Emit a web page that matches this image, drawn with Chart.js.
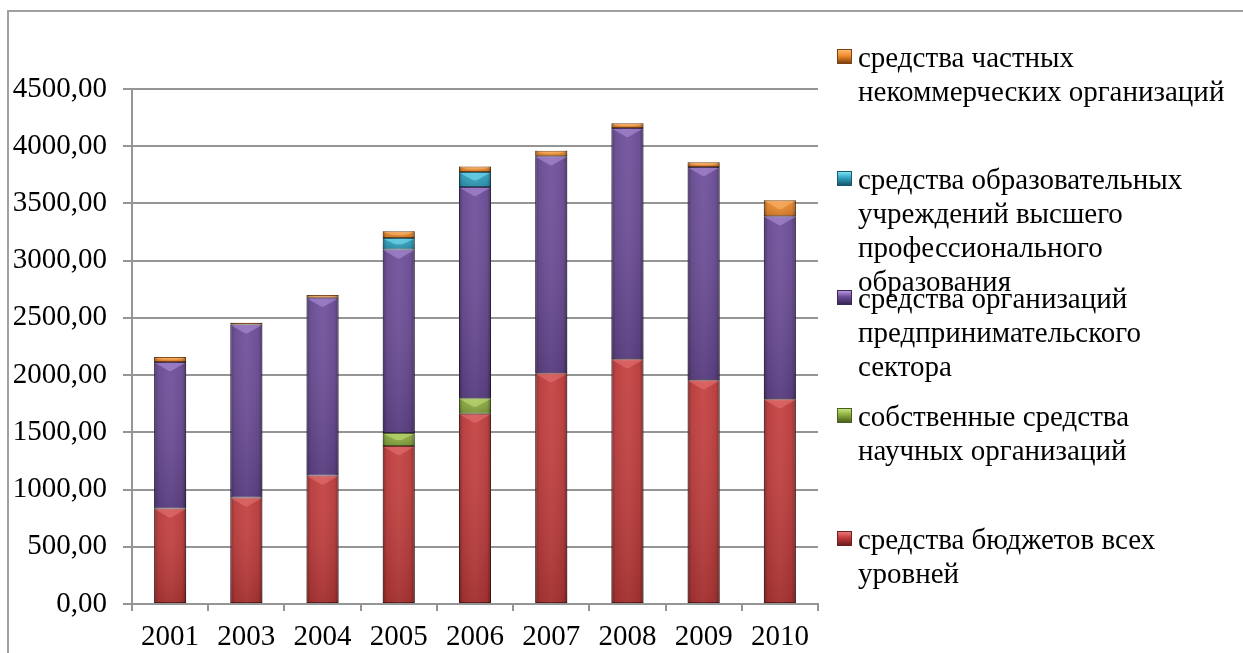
<!DOCTYPE html>
<html>
<head>
  <meta charset="utf-8">
  <title>Источники финансирования</title>
  <script src="https://cdn.jsdelivr.net/npm/chart.js"></script>
  <style>
    body {
      margin: 0;
      background: #ffffff;
      font-family: 'Times New Roman', 'Liberation Serif', 'DejaVu Serif', serif;
    }
    .wrap {
      position: relative;
      width: 1243px;
      height: 653px;
      overflow: hidden;
    }
    .frame {
      position: absolute;
      left: 7px;
      top: 10px;
      width: 1300px;
      height: 700px;
      border-left: 2px solid #a0a0a0;
      border-top: 2px solid #a0a0a0;
    }
    canvas { position: absolute; left: 0; top: 0; }
    .legend-item {
      position: absolute;
      left: 837px;
      font-size: 29px;
      line-height: 34px;
      color: #000;
    }
    .legend-item .box {
      position: absolute;
      left: 0;
      top: 9px;
      width: 13px;
      height: 13px;
    }
    .legend-item .txt {
      margin-left: 21px;
      white-space: nowrap;
    }
  </style>
</head>
<body>
  <div class="wrap">
    <div class="frame"></div>
    <canvas id="fundChart" width="1243" height="653"></canvas>
    <div id="legend"></div>
  </div>

  <script>
    const years = ['2001', '2003', '2004', '2005', '2006', '2007', '2008', '2009', '2010'];

    const budgetFunds    = [834, 930, 1122, 1381, 1663, 2016, 2138, 1955, 1789];
    const ownFunds       = [null, null, null, 114, 134, null, null, null, null];
    const businessFunds  = [1280, 1513, 1553, 1603, 1847, 1896, 2021, 1864, 1600];
    const universityFunds = [null, null, null, 101, 131, null, null, null, null];
    const nonprofitFunds = [44, 15, 25, 58, 47, 49, 41, 40, 138];

    const yTicks = [0, 500, 1000, 1500, 2000, 2500, 3000, 3500, 4000, 4500];

    const series = [
      { label: 'средства бюджетов всех\nуровней', data: budgetFunds, color: '#c23a3a', edge: '#6e1f20', light: '#e87777', top: 539 },
      { label: 'собственные средства\nнаучных организаций', data: ownFunds, color: '#8cad3f', edge: '#4a601f', light: '#c6e27c', top: 416 },
      { label: 'средства организаций\nпредпринимательского\nсектора', data: businessFunds, color: '#6a4a97', edge: '#3a2857', light: '#b595e0', top: 298 },
      { label: 'средства образовательных\nучреждений высшего\nпрофессионального\nобразования', data: universityFunds, color: '#2fa3c2', edge: '#18586a', light: '#7ee3f5', top: 179 },
      { label: 'средства частных\nнекоммерческих организаций', data: nonprofitFunds, color: '#f08a2c', edge: '#7e4210', light: '#fbb870', top: 57 }
    ];

    // bevel + side shading on every bar segment, roughly like office 3D bars
    const bevelPlugin = {
      id: 'bevel',
      afterDatasetsDraw(chart) {
        const ctx = chart.ctx;
        chart.data.datasets.forEach((ds, i) => {
          const s = series[i];
          const meta = chart.getDatasetMeta(i);
          meta.data.forEach(bar => {
            const p = bar.getProps(['x', 'y', 'base', 'width'], true);
            const top = Math.min(p.y, p.base);
            const h = Math.abs(p.base - p.y);
            if (!isFinite(h) || h < 1) return;
            const left = p.x - p.width / 2;
            const right = p.x + p.width / 2;
            ctx.save();
            const g = ctx.createLinearGradient(left, 0, right, 0);
            g.addColorStop(0, 'rgba(0,0,0,0.35)');
            g.addColorStop(0.12, 'rgba(0,0,0,0.06)');
            g.addColorStop(0.5, 'rgba(255,255,255,0.04)');
            g.addColorStop(0.88, 'rgba(0,0,0,0.06)');
            g.addColorStop(1, 'rgba(0,0,0,0.38)');
            ctx.fillStyle = g;
            ctx.fillRect(left, top, p.width, h);
            const v = ctx.createLinearGradient(0, top, 0, top + h);
            v.addColorStop(0, 'rgba(255,255,255,0.05)');
            v.addColorStop(1, 'rgba(0,0,0,0.15)');
            ctx.fillStyle = v;
            ctx.fillRect(left, top, p.width, h);
            const b = Math.min(9, h * 0.55);
            ctx.beginPath();
            ctx.moveTo(left + 1, top + 1);
            ctx.lineTo(right - 1, top + 1);
            ctx.lineTo(right - b - 6, top + b);
            ctx.lineTo(left + b + 6, top + b);
            ctx.closePath();
            ctx.globalAlpha = 0.55;
            ctx.fillStyle = s.light;
            ctx.fill();
            ctx.restore();
          });
        });
      }
    };

    const axisFont = { family: "'Times New Roman', 'Liberation Serif', 'DejaVu Serif', serif", size: 29 };

    new Chart(document.getElementById('fundChart').getContext('2d'), {
      type: 'bar',
      data: {
        labels: years,
        datasets: series.map(s => ({
          label: s.label,
          data: s.data,
          backgroundColor: s.color,
          borderColor: s.edge,
          borderWidth: 1,
          borderSkipped: false,
          barPercentage: 0.42,
          categoryPercentage: 1.0
        }))
      },
      options: {
        responsive: false,
        animation: false,
        layout: { padding: { top: 89, right: 425, left: 0, bottom: 0 } },
        plugins: {
          legend: { display: false },
          tooltip: { enabled: false }
        },
        scales: {
          x: {
            stacked: true,
            afterFit: scale => { scale.height = 49; },
            grid: { offset: true, drawOnChartArea: false, drawTicks: true, tickLength: 7, color: '#959595', lineWidth: 2 },
            border: { display: true, color: '#959595', width: 2 },
            ticks: { color: '#000', font: axisFont, padding: 9, maxRotation: 0 }
          },
          y: {
            stacked: true,
            min: yTicks[0],
            max: yTicks[yTicks.length - 1],
            afterFit: scale => { scale.width = 132; },
            afterBuildTicks: scale => { scale.ticks = yTicks.map(v => ({ value: v })); },
            grid: { color: '#959595', lineWidth: 2, tickLength: 9 },
            border: { display: true, color: '#959595', width: 2 },
            ticks: {
              color: '#000',
              font: axisFont,
              padding: 16,
              callback: v => v.toFixed(2).replace('.', ',')
            }
          }
        }
      },
      plugins: [bevelPlugin]
    });

    // legend on the right, top entry first (reverse of stacking)
    const legend = document.getElementById('legend');
    series.slice().reverse().forEach(s => {
      const item = document.createElement('div');
      item.className = 'legend-item';
      item.style.top = (s.top - 17) + 'px';
      const box = document.createElement('div');
      box.className = 'box';
      box.style.background = 'linear-gradient(180deg, ' + s.light + ' 0%, ' + s.color + ' 45%, ' + s.edge + ' 100%)';
      box.style.border = '1px solid ' + s.edge;
      const txt = document.createElement('div');
      txt.className = 'txt';
      txt.innerHTML = s.label.split('\n').join('<br>');
      item.appendChild(box);
      item.appendChild(txt);
      legend.appendChild(item);
    });
  </script>
</body>
</html>
